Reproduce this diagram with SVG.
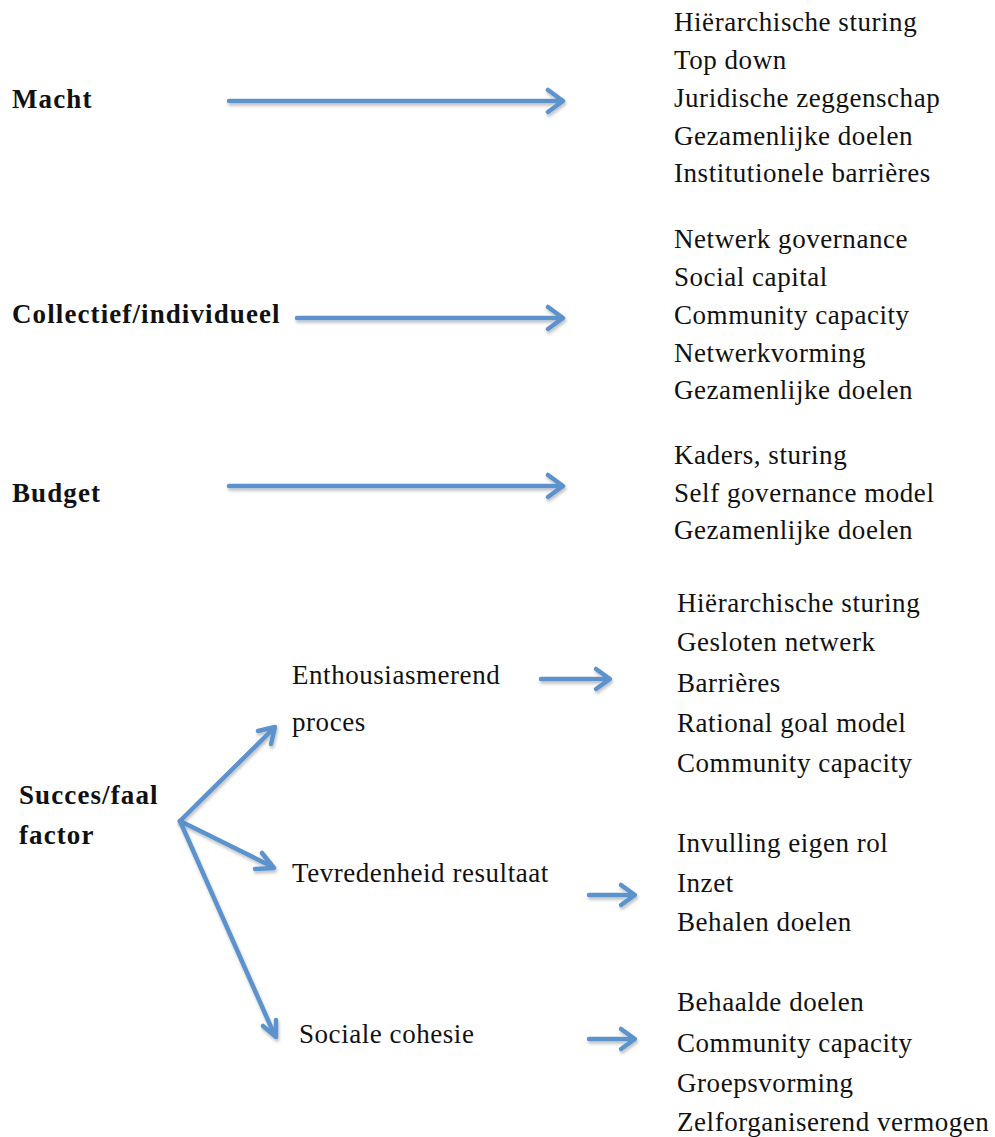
<svg xmlns="http://www.w3.org/2000/svg" width="995" height="1137" viewBox="0 0 995 1137">
  <style>
    .t { font-family: "Liberation Serif", "DejaVu Serif", serif; font-size: 27px; letter-spacing: 0.55px; fill: #111; }
    .b { font-family: "Liberation Serif", "DejaVu Serif", serif; font-size: 27px; font-weight: bold; letter-spacing: 1.1px; fill: #111; }
    .arr { fill: none; stroke: #5b93cc; stroke-width: 4.5; stroke-linecap: round; stroke-linejoin: round; filter: url(#sh); }
  </style>
  <defs>
    <filter id="sh" x="-10%" y="-50%" width="120%" height="200%">
      <feDropShadow dx="1" dy="2.5" stdDeviation="1.5" flood-color="#000" flood-opacity="0.25"/>
    </filter>
  </defs>
  <rect width="995" height="1137" fill="#fff"/>

  <!-- connectors: shaft plus open chevron head -->
  <g id="connectors">
    <path class="arr" d="M229 101 H562 M548 90 L563 101 L548 112"/>
    <path class="arr" d="M297 318 H562 M548 307 L563 318 L548 329"/>
    <path class="arr" d="M229 486 H562 M548 475 L563 486 L548 497"/>
    <path class="arr" d="M541 679 H609 M596 669 L610 679 L596 689"/>
    <path class="arr" d="M589 895 H634 M621 885 L635 895 L621 905"/>
    <path class="arr" d="M589 1039 H634 M621 1029 L635 1039 L621 1049"/>
    <path class="arr" d="M180 821 L274 728 M258 731 L275 727 L271 744"/>
    <path class="arr" d="M180 821 L273 867 M262 853 L274 868 L255 869"/>
    <path class="arr" d="M180 821 L275 1036 M276 1020 L276 1037 L263 1026"/>
  </g>

  <g id="macht">
    <text class="b" x="12" y="108">Macht</text>
  </g>
  <g id="collectief">
    <text class="b" x="12" y="323">Collectief/individueel</text>
  </g>
  <g id="budget">
    <text class="b" x="12" y="502">Budget</text>
  </g>
  <g id="succes">
    <text class="b" x="19" y="804">Succes/faal</text>
    <text class="b" x="19" y="844">factor</text>
  </g>

  <g id="macht-items">
    <text class="t" x="674" y="31">Hiërarchische sturing</text>
    <text class="t" x="674" y="69">Top down</text>
    <text class="t" x="674" y="107">Juridische zeggenschap</text>
    <text class="t" x="674" y="145">Gezamenlijke doelen</text>
    <text class="t" x="674" y="182">Institutionele barrières</text>
  </g>
  <g id="collectief-items">
    <text class="t" x="674" y="248">Netwerk governance</text>
    <text class="t" x="674" y="286">Social capital</text>
    <text class="t" x="674" y="324">Community capacity</text>
    <text class="t" x="674" y="362">Netwerkvorming</text>
    <text class="t" x="674" y="399">Gezamenlijke doelen</text>
  </g>
  <g id="budget-items">
    <text class="t" x="674" y="464">Kaders, sturing</text>
    <text class="t" x="674" y="502">Self governance model</text>
    <text class="t" x="674" y="539">Gezamenlijke doelen</text>
  </g>

  <g id="enthousiasmerend">
    <text class="t" x="292" y="684">Enthousiasmerend</text>
    <text class="t" x="292" y="731">proces</text>
  </g>
  <g id="tevredenheid">
    <text class="t" x="292" y="882">Tevredenheid resultaat</text>
  </g>
  <g id="sociale">
    <text class="t" x="299" y="1043">Sociale cohesie</text>
  </g>

  <g id="enthousiasmerend-items">
    <text class="t" x="677" y="612">Hiërarchische sturing</text>
    <text class="t" x="677" y="651">Gesloten netwerk</text>
    <text class="t" x="677" y="692">Barrières</text>
    <text class="t" x="677" y="732">Rational goal model</text>
    <text class="t" x="677" y="772">Community capacity</text>
  </g>
  <g id="tevredenheid-items">
    <text class="t" x="677" y="852">Invulling eigen rol</text>
    <text class="t" x="677" y="892">Inzet</text>
    <text class="t" x="677" y="931">Behalen doelen</text>
  </g>
  <g id="sociale-items">
    <text class="t" x="677" y="1011">Behaalde doelen</text>
    <text class="t" x="677" y="1052">Community capacity</text>
    <text class="t" x="677" y="1092">Groepsvorming</text>
    <text class="t" x="677" y="1131">Zelforganiserend vermogen</text>
  </g>
</svg>
